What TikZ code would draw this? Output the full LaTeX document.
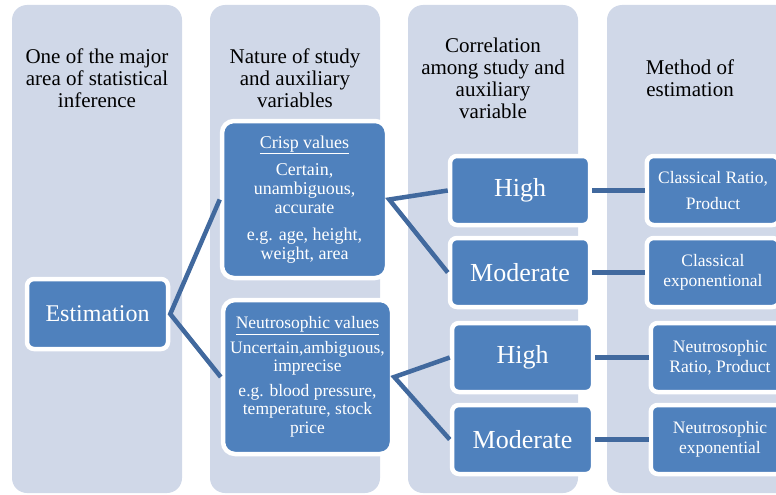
\documentclass[tikz,border=0pt]{standalone}
\usepackage{fontspec}
\setmainfont{Liberation Serif}
\definecolor{colbg}{HTML}{D0D8E8}
\definecolor{boxblue}{HTML}{4F81BD}
\definecolor{conn}{HTML}{41699E}
\begin{document}
\begin{tikzpicture}[x=1pt,y=-1pt,
  colbox/.style={fill=colbg, rounded corners=15pt},
  blk/.style={fill=boxblue, draw=white, line width=4.5pt, rounded corners=7pt, text=white, inner sep=0pt, align=center},
  head/.style={align=center, font=\fontsize{21}{22}\selectfont, inner sep=0pt},
  big/.style={font=\fontsize{26}{28}\selectfont},
  mid/.style={font=\fontsize{17.5}{20}\selectfont},
  link/.style={draw=conn, line width=4.5pt}]
\useasboundingbox (0,0) rectangle (776,495);
\clip (0,0) rectangle (776,495);
% columns
\fill[colbox] (12,5) rectangle (182,493);
\fill[colbox] (210,5) rectangle (380,493);
\fill[colbox] (408,5) rectangle (578,493);
\fill[colbox] (607,5) rectangle (800,493);
% headers
\node[head] (h1) at (97,78) {One of the major\\area of statistical\\inference};
\node[head] (h2) at (295,78) {Nature of study\\and auxiliary\\variables};
\node[head] (h3) at (493,78.5) {Correlation\\among study and\\auxiliary\\variable};
\node[head] (h4) at (690,78) {Method of\\estimation};
% boxes
\node[blk, minimum width=141pt, minimum height=70pt, font=\fontsize{24}{26}\selectfont] (est) at (97.5,314) {Estimation};
\node[blk, rounded corners=12pt, minimum width=165pt, minimum height=157pt, font=\fontsize{18}{19}\selectfont] (crisp) at (304.5,199.5)
  {\underline{Crisp values}\\[8pt]Certain,\\unambiguous,\\accurate\\[8pt]e.g. age, height,\\weight, area};
\node[blk, rounded corners=12pt, minimum width=169pt, minimum height=154pt, font=\fontsize{17.5}{18.5}\selectfont] (neut) at (307.5,377)
  {\underline{Neutrosophic values}\\[6pt]Uncertain,ambiguous,\\imprecise\\[6pt]e.g. blood pressure,\\temperature, stock\\price};
\node[blk, big, minimum width=140pt, minimum height=69pt] (high1) at (520,190.5) {High};
\node[blk, big, minimum width=140pt, minimum height=69pt] (mod1) at (520,272.5) {Moderate};
\node[blk, big, minimum width=141pt, minimum height=69pt] (high2) at (522.5,357.5) {High};
\node[blk, big, minimum width=141pt, minimum height=69pt] (mod2) at (522.5,439.5) {Moderate};
\node[blk, mid, minimum width=132.5pt, minimum height=69pt] (cr) at (713,190.5) {Classical Ratio,\\[6pt]Product};
\node[blk, mid, minimum width=132.5pt, minimum height=69pt] (ce) at (713,272.5) {Classical\\exponentional};
\node[blk, mid, minimum width=138.5pt, minimum height=69pt] (nr) at (720,357.5) {Neutrosophic\\Ratio, Product};
\node[blk, mid, minimum width=138.5pt, minimum height=69pt] (ne) at (720,439.5) {Neutrosophic\\exponential};
% connectors
\draw[link] (crisp.west) -- (est.east) -- (neut.west);
\draw[link] (high1.west) -- (crisp.east) -- (mod1.west);
\draw[link] (high2.west) -- (neut.east) -- (mod2.west);
\draw[link] (high1.east) -- (cr.west);
\draw[link] (mod1.east) -- (ce.west);
\draw[link] (high2.east) -- (nr.west);
\draw[link] (mod2.east) -- (ne.west);
\end{tikzpicture}
\end{document}
